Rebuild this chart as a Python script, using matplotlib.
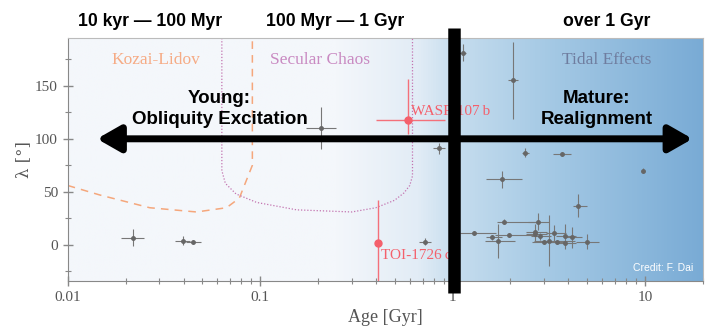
import numpy as np
import matplotlib.pyplot as plt
from matplotlib.colors import LinearSegmentedColormap
from matplotlib.lines import Line2D

# Kozai-Lidov boundary (dashed orange)
kozai_age = [0.01, 0.0147, 0.0267, 0.0467, 0.0669, 0.078, 0.0912, 0.0912]
kozai_lam = [56, 47, 35, 31, 35, 44, 75, 195]

# Secular chaos boundary (dotted purple)
chaos_age = [0.0633, 0.0633, 0.066, 0.075, 0.096, 0.155, 0.30, 0.40, 0.50, 0.56, 0.60, 0.62, 0.62]
chaos_lam = [195, 70, 58, 48, 40, 33, 31, 35, 42, 49, 56, 65, 195]

# literature systems (grey)
ages = [0.0218, 0.0396, 0.0446, 0.208, 0.72, 0.85, 1.13,
        2.07, 2.39, 3.73, 9.8, 1.80, 4.52, 1.29, 1.60, 1.72, 1.86, 2.77,
        1.97, 2.70, 2.70, 2.86, 3.16, 3.38, 3.0, 3.5, 3.87, 3.87, 4.2, 4.98]
age_lo = [0.0028, 0.0035, 0.0035, 0.034, 0.05, 0.06, 0.05,
          0.12, 0.1, 0.4, 0.1, 0.3, 0.3, 0.2, 0.1, 0.25, 0.15, 0.3,
          0.3, 0.3, 0.3, 0.3, 0.5, 0.3, 0.4, 0.3, 0.4, 0.4, 0.4, 0.6]
age_hi = [0.0031, 0.0035, 0.0045, 0.04, 0.05, 0.06, 0.05,
          0.12, 0.1, 0.4, 0.1, 0.5, 0.5, 0.4, 0.2, 0.4, 0.9, 0.4,
          0.7, 0.4, 0.4, 0.4, 1.2, 0.5, 0.4, 0.4, 0.5, 0.5, 0.5, 0.8]
lams = [6.6, 4, 3, 110, 3, 91, 181,
        155, 87, 86, 70, 62, 37, 11, 7, 4, 22, 22,
        9, 12, 10, 8, 4, 11, 3, 3, 8, 2, 7, 3]
lam_err = [8, 4, 2, 20, 3, 5, 8,
           36, 4, 2, 2, 8, 11, 2, 2, 16, 2, 8,
           2, 8, 3, 3, 24, 8, 2, 2, 12, 2, 10, 7]

# highlighted systems (red)
hl_names = ["WASP-107 b", "TOI-1726 c"]
hl_age = [0.59, 0.41]
hl_age_lo = [0.19, 0.0]
hl_age_hi = [0.32, 0.0]
hl_lam = [118, 2]
hl_lam_lo = [13, 36]
hl_lam_hi = [38, 40]

fig = plt.figure(figsize=(7.2, 3.34), dpi=100)
ax = fig.add_axes([0.094, 0.159, 0.882, 0.727])
ax.set_xscale("log")
ax.set_xlim(0.01, 20)
ax.set_ylim(-34, 195)

# background gradient (young -> mature)
cmap = LinearSegmentedColormap.from_list(
    "age_bg",
    [(0.0, "#f4f7fb"), (0.42, "#f4f7fb"), (0.55, "#e2ecf6"), (0.61, "#c6ddee"),
     (0.75, "#a6cae5"), (1.0, "#79abd5")],
)
ax.imshow(np.linspace(0, 1, 512)[None, :], cmap=cmap, aspect="auto",
          extent=[0, 1, 0, 1], transform=ax.transAxes, zorder=0)

ax.plot(kozai_age, kozai_lam, ls=(0, (5, 4)), color="#f5a77c", lw=1.1, zorder=2)
ax.plot(chaos_age, chaos_lam, ls=(0, (1, 1.5)), color="#c374b0", lw=0.9, zorder=2)

ax.errorbar(ages, lams, xerr=[age_lo, age_hi], yerr=lam_err, fmt="o", ms=2.5,
            color="#666666", ecolor="#777777", elinewidth=0.8, capsize=0, zorder=3)
ax.errorbar(hl_age, hl_lam, xerr=[hl_age_lo, hl_age_hi], yerr=[hl_lam_lo, hl_lam_hi],
            fmt="o", ms=5, color="#f4606c", ecolor="#f4707a", elinewidth=1.0,
            capsize=0, zorder=4)
ax.text(0.61, 126, hl_names[0].replace(" ", "\u2009"), color="#f4606c",
        family="Liberation Serif", fontsize=11, ha="left", va="center", zorder=4)
ax.text(0.425, -10, hl_names[1].replace(" ", "\u2009"), color="#f4606c",
        family="Liberation Serif", fontsize=11, ha="left", va="center", zorder=4)

serif = dict(family="Liberation Serif", fontsize=12.5, ha="center", va="center")
ax.text(0.0286, 174, "Kozai-Lidov", color="#f6ab85", **serif)
ax.text(0.204, 174, "Secular Chaos", color="#c98ac2", **serif)
ax.text(6.3, 174, "Tidal Effects", color="#6f7d9f", **serif)

# big double arrow
ax.annotate("", xy=(17.7, 100), xytext=(0.0142, 100),
            arrowprops=dict(arrowstyle="<|-|>,head_length=0.7,head_width=0.4",
                            color="black", lw=5, mutation_scale=20,
                            shrinkA=0, shrinkB=0), zorder=6)

bold = dict(family="Liberation Sans", fontweight="bold", fontsize=13.5,
            ha="center", va="center", linespacing=1.3, zorder=6)
ax.text(0.0616, 128, "Young:\nObliquity Excitation", **bold)
ax.text(5.6, 128, "Mature:\nRealignment", **bold)

ax.text(0.985, 0.055, "Credit: F. Dai", transform=ax.transAxes, color="white",
        family="Liberation Sans", fontsize=7.5, ha="right", va="center", zorder=6)

# axes styling
for side in ["top", "right"]:
    ax.spines[side].set_color("#bbbbbb")
for side in ["left", "bottom"]:
    ax.spines[side].set_color("#888888")
ax.set_yticks([0, 50, 100, 150])
ax.set_yticks([-25, 25, 75, 125, 175], minor=True)
ax.set_xticks([0.01, 0.1, 1, 10])
ax.set_xticklabels(["0.01", "0.1", "1", "10"])
ax.tick_params(which="both", direction="inout", colors="#888888", labelcolor="#555555",
               top=False, right=False)
ax.tick_params(which="major", length=7, width=1.0, labelsize=11)
ax.tick_params(which="minor", length=5, width=0.8)
for lab in ax.get_xticklabels() + ax.get_yticklabels():
    lab.set_family("Liberation Serif")
ax.set_xlabel("Age [Gyr]", family="Liberation Serif", fontsize=13, color="#555555")
ax.set_ylabel("\u03bb [\u00b0]", family="DejaVu Serif", fontsize=12, color="#555555",
              labelpad=2)

# vertical separator at 1 Gyr
fig.add_artist(Line2D([454 / 720, 454 / 720], [1 - 28 / 334, 1 - 293 / 334],
                      color="black", lw=9, solid_capstyle="butt", zorder=10))

head = dict(family="Liberation Sans", fontweight="bold", fontsize=12.7,
            ha="center", va="center")
fig.text(150 / 720, 1 - 21 / 334, "10 kyr \u2014 100 Myr", **head)
fig.text(335 / 720, 1 - 21 / 334, "100 Myr \u2014 1 Gyr", **head)
fig.text(607 / 720, 1 - 21 / 334, "over 1 Gyr", **head)

fig.savefig("out.png", dpi=100)
